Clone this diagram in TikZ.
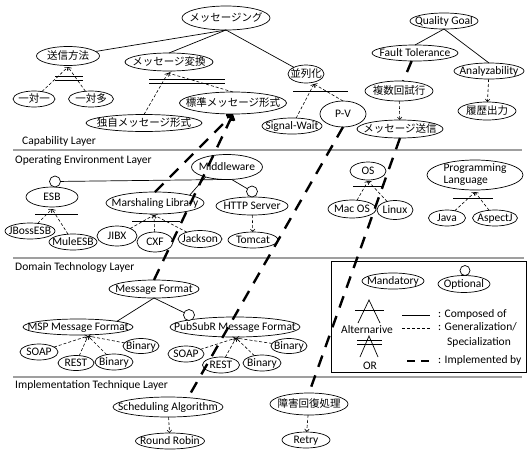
\documentclass[tikz,border=0pt]{standalone}
\usepackage{fontspec}
\setmainfont{Carlito}
\newfontfamily\cjk{Noto Sans CJK JP}
\usetikzlibrary{shapes.geometric,arrows.meta}
\newcommand\Tx[1]{\smash{\makebox[0pt][c]{\raisebox{-0.33em}{#1}}}}
\newcommand\Jx[1]{\Tx{\cjk\fontsize{10.5}{12}\selectfont #1}}
\tikzset{
  fe/.style n args={2}{ellipse, draw, line width=0.7pt, inner sep=0pt, outer sep=0pt, fill=white, minimum width=#1pt, minimum height=#2pt},
  oc/.style={circle, draw, line width=0.7pt, fill=white, inner sep=0pt, outer sep=0pt, minimum size=#1pt},
  compline/.style={line width=0.7pt},
  genline/.style={line width=0.6pt, dash pattern=on 3pt off 2pt, -{Straight Barb[length=2.5pt,width=4.5pt]}},
  impline/.style={line width=2.4pt, dash pattern=on 12pt off 9pt},
  orbar/.style={line width=0.8pt},
  laysep/.style={draw=gray!75, line width=1.6pt},
  lay/.style={anchor=west, inner sep=0pt},
  legtxt/.style={anchor=west, inner sep=0pt, text height=1.6ex, text depth=.4ex},
}
\begin{document}
\begin{tikzpicture}[x=1pt,y=-1pt,font=\fontsize{11.5}{13.5}\selectfont]
\useasboundingbox (0,0) rectangle (530,450);

% layer separators and labels
\draw[laysep] (13,150) -- (522,150);
\draw[laysep] (13,258) -- (524,258);
\draw[laysep] (13,377) -- (522,377);
\node[lay] (lcap) at (22,141) {Capability Layer};
\node[lay] (lope) at (15,161) {Operating Environment Layer};
\node[lay] (ldom) at (15,267) {Domain Technology Layer};
\node[lay] (limp) at (15,385) {Implementation Technique Layer};

% legend box
\draw[line width=0.7pt] (331,261) rectangle (526,372);

% ---------- Capability layer ----------
\node[fe={88}{24}] (msg) at (226,18) {\Jx{メッセージング}};
\node[fe={63}{19}] (soushin) at (68,56) {\Jx{送信方法}};
\node[fe={42}{16}] (ichi1) at (34,99) {\Jx{一対一}};
\node[fe={45}{16}] (ichita) at (91,99) {\Jx{一対多}};
\node[fe={88}{18}] (henkan) at (169,62) {\Jx{メッセージ変換}};
\node[fe={116}{17}] (dokuji) at (144,123) {\Jx{独自メッセージ形式}};
\node[fe={107}{22}] (hyoujun) at (233,103) {\Jx{標準メッセージ形式}};
\node[fe={36}{18}] (heiretsu) at (306,74) {\Jx{並列化}};
\node[fe={60}{16}] (sigw) at (292,126) {\Tx{Signal-Wait}};
\node[fe={46}{26}] (pv) at (343,114) {\Tx{P-V}};
\node[fe={68}{16}] (qgoal) at (444,21) {\Tx{Quality Goal}};
\node[fe={86}{16}] (ftol) at (415,53) {\Tx{Fault Tolerance}};
\node[fe={70}{16}] (analyz) at (489,71) {\Tx{Analyzability}};
\node[fe={68}{20}] (fukusu) at (399,91) {\Jx{複数回試行}};
\node[fe={58}{18}] (rireki) at (487,111) {\Jx{履歴出力}};
\node[fe={86}{18}] (msgsend) at (400,129) {\Jx{メッセージ送信}};

\coordinate (soushinP) at (68,67);
\coordinate (henkanP) at (168,73);
\coordinate (heiretsuP) at (314,84);

\draw[compline] (msg.south) -- (soushin);
\draw[compline] (msg.south) -- (henkan.north);
\draw[compline] (msg.south) -- (heiretsu);
\draw[compline] (qgoal.south) -- (ftol.north);
\draw[compline] (qgoal.south) -- (analyz.north);

\draw[genline] (ichi1) -- (soushinP);
\draw[genline] (ichita) -- (soushinP);
\draw[orbar] (55,76) -- (83,76);
\draw[orbar] (55,80) -- (83,80);
\draw[genline] (dokuji.north) -- (henkanP);
\draw[genline] (hyoujun.north) -- (henkanP);
\draw[orbar] (149,79) -- (225,79);
\draw[orbar] (149,83) -- (225,83);
\draw[genline] (sigw) -- (heiretsuP);
\draw[genline] (pv.north) -- (heiretsuP);
\draw[orbar] (293,91) -- (348,91);
\draw[genline] (analyz) -- (rireki);
\draw[genline] (fukusu) -- (msgsend);

% ---------- Operating environment layer ----------
\node[fe={71}{25}] (mw) at (227,167) {\Tx{Middleware}};
\node[fe={52}{20}] (esb) at (52,197) {\Tx{ESB}};
\node[oc=11] (esbc) at (55,181.5) {};
\node[fe={50}{16}] (jboss) at (30,231) {\Tx{JBossESB}};
\node[fe={48}{16}] (mule) at (73,242) {\Tx{MuleESB}};
\node[fe={98}{22}] (marsh) at (155,203) {\Tx{Marshaling Library}};
\node[fe={40}{20}] (jibx) at (117,236) {\Tx{JIBX}};
\node[fe={36}{20}] (cxf) at (155,242) {\Tx{CXF}};
\node[fe={44}{17}] (jackson) at (200,239) {\Tx{Jackson}};
\node[fe={72}{18}] (http) at (252,206) {\Tx{HTTP Server}};
\node[oc=11] (httpc) at (252,191.5) {};
\node[fe={50}{16}] (tomcat) at (253,240) {\Tx{Tomcat}};
\node[fe={36}{18}] (os) at (368,171) {\Tx{OS}};
\node[fe={48}{18}] (macos) at (352,209) {\Tx{Mac OS}};
\node[fe={36}{19}] (linux) at (395,210) {\Tx{Linux}};
\node[fe={96}{30}] (plang) at (475,175) {\smash{\makebox[0pt][c]{\raisebox{-0.25em}{\begin{tabular}[c]{@{}l@{}}Programming\\[-2pt]Language\end{tabular}}}}};
\node[fe={37}{16}] (java) at (447,218) {\Tx{Java}};
\node[fe={45}{16}] (aspectj) at (495,218) {\Tx{AspectJ}};

\coordinate (esbP) at (52,209);
\coordinate (marshP) at (154,215);
\coordinate (osP) at (368,181);
\coordinate (plangP) at (475,192);

\draw[compline] (esbc) -- (mw.265);
\draw[compline] (marsh.north east) -- (mw.205);
\draw[compline] (mw.290) -- (httpc);

\draw[genline] (jboss) -- (esbP);
\draw[genline] (mule) -- (esbP);
\draw[orbar] (35,214) -- (78,214);
\draw[genline] (jibx) -- (marshP);
\draw[genline] (cxf) -- (marshP);
\draw[genline] (jackson) -- (marshP);
\draw[orbar] (132,221) -- (180,221);
\draw[genline] (http) -- (tomcat);
\draw[genline] (macos) -- (osP);
\draw[genline] (linux) -- (osP);
\draw[orbar] (353,186) -- (383,186);
\draw[genline] (java) -- (plangP);
\draw[genline] (aspectj) -- (plangP);
\draw[orbar] (453,198) -- (493,198);

% ---------- Domain technology layer ----------
\node[fe={90}{18}] (mf) at (154,289) {\Tx{Message Format}};
\node[fe={110}{16}] (msp) at (78,327) {\Tx{MSP Message Format}};
\node[fe={130}{20}] (pub) at (235,327) {\Tx{PubSubR Message Format}};
\node[oc=11] (pubc) at (189,315) {};
\node[fe={38}{16}] (soap1) at (39,352) {\Tx{SOAP}};
\node[fe={36}{15}] (rest1) at (76,363) {\Tx{REST}};
\node[fe={38}{16}] (bin1b) at (114,362) {\Tx{Binary}};
\node[fe={36}{15}] (bin1a) at (141,346) {\Tx{Binary}};
\node[fe={36}{16}] (soap2) at (186,354) {\Tx{SOAP}};
\node[fe={37}{16}] (rest2) at (221,365) {\Tx{REST}};
\node[fe={38}{16}] (bin2b) at (262,363) {\Tx{Binary}};
\node[fe={36}{15}] (bin2a) at (289,346) {\Tx{Binary}};

\coordinate (mspP) at (88,336);
\coordinate (pubP) at (236,338);

\draw[compline] (mf.south) -- (msp.north east);
\draw[compline] (mf.south) -- (pubc);
\foreach \c in {soap1,rest1,bin1b,bin1a} \draw[genline] (\c) -- (mspP);
\foreach \c in {soap2,rest2,bin2b,bin2a} \draw[genline] (\c) -- (pubP);

% ---------- Implementation technique layer ----------
\node[fe={110}{20}] (sched) at (168,407) {\Tx{Scheduling Algorithm}};
\node[fe={69}{16}] (rr) at (170,441) {\Tx{Round Robin}};
\node[fe={78}{22}] (shougai) at (309,404) {\Jx{障害回復処理}};
\node[fe={48}{16}] (retry) at (306,440) {\Tx{Retry}};
\draw[genline] (sched) -- (rr);
\draw[genline] (shougai) -- (retry);

% ---------- Legend ----------
\node[fe={62}{16}] (lmand) at (393,281) {\Tx{Mandatory}};
\node[fe={52}{17}] (lopt) at (464,284) {\Tx{Optional}};
\node[oc=10] (loptc) at (465,270.5) {};
\draw[compline] (358,323) -- (369,300) -- (380,323);
\draw[orbar] (355,310) -- (384,310);
\node[inner sep=0pt] (lalt) at (367,330) {Alternarive};
\draw[compline] (360,357) -- (369,336) -- (378,357);
\draw[orbar] (357,340) -- (382,340);
\draw[orbar] (357,344) -- (382,344);
\node[inner sep=0pt] (lor) at (370,366) {OR};
\draw[compline] (402,315) -- (430,315);
\node[legtxt] (lcomp) at (438,315) {: Composed of};
\draw[line width=0.6pt, dash pattern=on 3pt off 2pt] (402,328) -- (430,328);
\node[legtxt] (lgen) at (438,328) {: Generalization/};
\node[legtxt] (lspec) at (447,343) {Specialization};
\draw[impline, dash pattern=on 8pt off 6pt] (407,361) -- (430,361);
\node[legtxt] (limpl) at (438,361) {: Implemented by};

% ---------- Implemented-by connectors ----------
\draw[impline] (ftol) -- (fukusu);
\draw[impline] (msgsend.south) -- (shougai.north);
\draw[impline] (pv.south) -- (sched.25);
\draw[impline, -{Straight Barb[length=4pt,width=8pt]}] (mf.north) -- (hyoujun.south);
\draw[impline, -{Straight Barb[length=4pt,width=8pt]}] (marsh.north) -- (hyoujun.south);
\end{tikzpicture}
\end{document}
